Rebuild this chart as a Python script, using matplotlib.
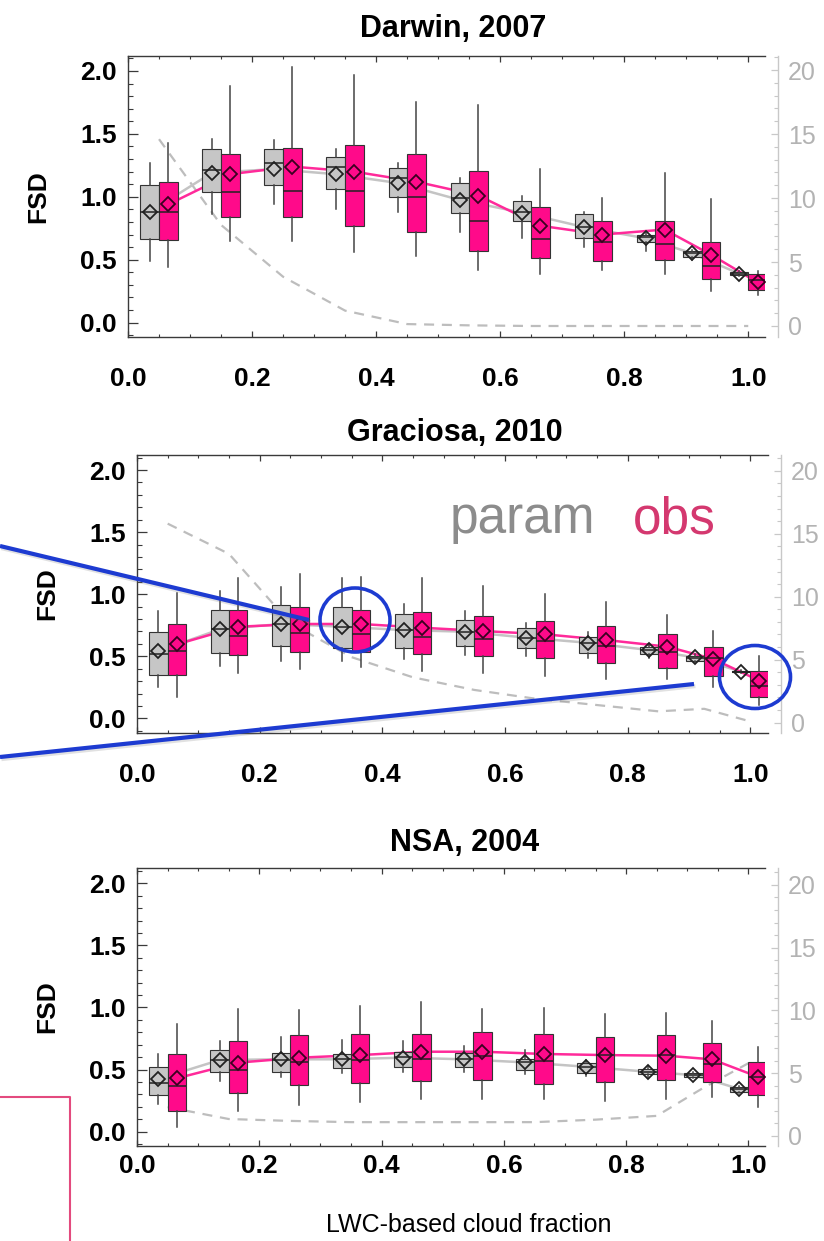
import matplotlib
matplotlib.use('Agg')
import matplotlib.pyplot as plt
from matplotlib.patches import Ellipse
from matplotlib.ticker import MultipleLocator, FormatStrFormatter
import matplotlib.patheffects as pe

plt.rcParams['font.family'] = ['Liberation Sans', 'DejaVu Sans']

# ---------------- data ----------------
bin_centers = [0.05, 0.15, 0.25, 0.35, 0.45, 0.55, 0.65, 0.75, 0.85, 0.925, 1.0]
titles = ["Darwin, 2007", "Graciosa, 2010", "NSA, 2004"]

# Darwin, 2007 - param (gray)
darwin_param_lo = [0.49, 0.86, 0.94, 0.90, 0.88, 0.72, 0.67, 0.60, 0.57, 0.50, 0.37]
darwin_param_q1 = [0.665, 1.04, 1.09, 1.06, 1.00, 0.87, 0.81, 0.67, 0.64, 0.525, 0.38]
darwin_param_med = [0.88, 1.21, 1.27, 1.24, 1.15, 0.99, 0.88, 0.76, 0.68, 0.55, 0.39]
darwin_param_q3 = [1.09, 1.38, 1.38, 1.32, 1.23, 1.11, 0.97, 0.86, 0.70, 0.57, 0.40]
darwin_param_hi = [1.27, 1.46, 1.45, 1.38, 1.27, 1.15, 1.01, 0.88, 0.715, 0.58, 0.41]
darwin_param_mean = [0.88, 1.19, 1.22, 1.18, 1.11, 0.975, 0.875, 0.76, 0.67, 0.55, 0.39]
# Darwin, 2007 - obs (pink)
darwin_obs_lo = [0.445, 0.65, 0.645, 0.56, 0.53, 0.42, 0.39, 0.42, 0.39, 0.25, 0.22]
darwin_obs_q1 = [0.657, 0.84, 0.84, 0.77, 0.72, 0.57, 0.51, 0.49, 0.50, 0.344, 0.26]
darwin_obs_med = [0.877, 1.036, 1.046, 1.046, 1.0, 0.81, 0.665, 0.638, 0.625, 0.453, 0.34]
darwin_obs_q3 = [1.12, 1.34, 1.385, 1.41, 1.34, 1.205, 0.92, 0.81, 0.81, 0.644, 0.385]
darwin_obs_hi = [1.425, 1.88, 2.03, 1.97, 1.75, 1.73, 1.22, 0.99, 1.19, 0.98, 0.41]
darwin_obs_mean = [0.94, 1.18, 1.24, 1.20, 1.12, 1.01, 0.77, 0.70, 0.74, 0.54, 0.32]
darwin_frac = [14.6, 7.9, 3.85, 1.2, 0.15, 0.05, 0.0, 0.0, 0.0, 0.0, 0.0]

# Graciosa, 2010 - param
graciosa_param_lo = [0.255, 0.42, 0.46, 0.46, 0.48, 0.51, 0.50, 0.49, 0.49, 0.456, 0.365]
graciosa_param_q1 = [0.35, 0.53, 0.58, 0.57, 0.57, 0.585, 0.57, 0.53, 0.515, 0.464, 0.37]
graciosa_param_med = [0.515, 0.717, 0.76, 0.738, 0.711, 0.698, 0.65, 0.609, 0.55, 0.483, 0.376]
graciosa_param_q3 = [0.698, 0.872, 0.913, 0.894, 0.838, 0.79, 0.725, 0.658, 0.577, 0.505, 0.385]
graciosa_param_hi = [0.867, 1.028, 1.06, 1.128, 0.921, 0.867, 0.77, 0.698, 0.591, 0.518, 0.39]
graciosa_param_mean = [0.542, 0.717, 0.76, 0.738, 0.711, 0.698, 0.65, 0.609, 0.55, 0.491, 0.376]
# Graciosa, 2010 - obs
graciosa_obs_lo = [0.174, 0.368, 0.395, 0.416, 0.381, 0.368, 0.344, 0.317, 0.314, 0.25, 0.107]
graciosa_obs_q1 = [0.349, 0.51, 0.532, 0.532, 0.515, 0.502, 0.483, 0.443, 0.408, 0.341, 0.174]
graciosa_obs_med = [0.542, 0.663, 0.69, 0.679, 0.658, 0.639, 0.623, 0.585, 0.537, 0.483, 0.26]
graciosa_obs_q3 = [0.76, 0.872, 0.894, 0.872, 0.854, 0.827, 0.787, 0.744, 0.677, 0.577, 0.381]
graciosa_obs_hi = [1.007, 1.128, 1.162, 1.136, 1.128, 1.066, 1.001, 0.934, 0.832, 0.703, 0.502]
graciosa_obs_mean = [0.596, 0.738, 0.76, 0.76, 0.73, 0.703, 0.677, 0.631, 0.577, 0.478, 0.303]
graciosa_frac = [15.8, 13.4, 7.9, 5.2, 3.6, 2.6, 1.9, 1.4, 0.9, 1.1, 0.1]

# NSA, 2004 - param
nsa_param_lo = [0.22, 0.411, 0.438, 0.475, 0.478, 0.483, 0.464, 0.448, 0.443, 0.43, 0.309]
nsa_param_q1 = [0.295, 0.478, 0.478, 0.51, 0.518, 0.518, 0.497, 0.47, 0.462, 0.438, 0.322]
nsa_param_med = [0.389, 0.577, 0.577, 0.583, 0.604, 0.583, 0.558, 0.523, 0.483, 0.456, 0.344]
nsa_param_q3 = [0.518, 0.658, 0.631, 0.626, 0.644, 0.636, 0.585, 0.556, 0.502, 0.47, 0.362]
nsa_param_hi = [0.626, 0.73, 0.76, 0.738, 0.73, 0.693, 0.658, 0.577, 0.529, 0.483, 0.368]
nsa_param_mean = [0.424, 0.577, 0.583, 0.583, 0.596, 0.583, 0.558, 0.523, 0.483, 0.456, 0.344]
# NSA, 2004 - obs
nsa_obs_lo = [0.04, 0.169, 0.215, 0.242, 0.26, 0.26, 0.26, 0.25, 0.26, 0.277, 0.196]
nsa_obs_q1 = [0.169, 0.309, 0.376, 0.395, 0.408, 0.416, 0.384, 0.403, 0.416, 0.397, 0.295]
nsa_obs_med = [0.37, 0.497, 0.558, 0.577, 0.585, 0.609, 0.569, 0.617, 0.617, 0.545, 0.443]
nsa_obs_q3 = [0.626, 0.73, 0.779, 0.787, 0.787, 0.805, 0.787, 0.765, 0.779, 0.711, 0.558]
nsa_obs_hi = [0.867, 0.988, 0.98, 1.012, 1.047, 0.988, 0.999, 0.948, 0.958, 0.891, 0.679]
nsa_obs_mean = [0.43, 0.556, 0.596, 0.617, 0.644, 0.644, 0.626, 0.617, 0.612, 0.583, 0.443]
nsa_frac = [2.3, 1.35, 1.2, 1.1, 1.1, 1.1, 1.1, 1.3, 1.6, 3.8, 5.8]

x_ticks = [0.0, 0.2, 0.4, 0.6, 0.8, 1.0]
y_ticks = [0.0, 0.5, 1.0, 1.5, 2.0]
right_ticks = [0, 5, 10, 15, 20]

# ---------------- styling / layout ----------------
W, H = 824, 1241
GRAY_FILL = '#c6c6c6'
PINK_FILL = '#ff0a8a'
PINK_LINE = '#ff2a9a'
GRAY_LINE = '#c4c4c4'
EDGE = '#333333'

# pixel boxes (left, top, right, bottom)
panel_px = [(128, 56, 765, 337), (137, 455, 768, 733), (137, 868, 765, 1146)]
ylims = [(-0.114, 2.119), (-0.118, 2.121), (-0.115, 2.123)]
xlims = [(0, 1.027), (0, 1.029), (0, 1.027)]
rylims = [(-0.86, 21.1), (-0.82, 21.25), (-0.8, 21.35)]
xpads = [21.5, 21.5, 5.5]
title_pads = [14, 10, 12]
title_x = [0.51, 0.504, 0.521]

fig = plt.figure(figsize=(W / 100, H / 100), dpi=100)

sites = [
    (
        (darwin_param_lo, darwin_param_q1, darwin_param_med, darwin_param_q3, darwin_param_hi, darwin_param_mean),
        (darwin_obs_lo, darwin_obs_q1, darwin_obs_med, darwin_obs_q3, darwin_obs_hi, darwin_obs_mean),
        darwin_frac,
    ),
    (
        (graciosa_param_lo, graciosa_param_q1, graciosa_param_med, graciosa_param_q3, graciosa_param_hi, graciosa_param_mean),
        (graciosa_obs_lo, graciosa_obs_q1, graciosa_obs_med, graciosa_obs_q3, graciosa_obs_hi, graciosa_obs_mean),
        graciosa_frac,
    ),
    (
        (nsa_param_lo, nsa_param_q1, nsa_param_med, nsa_param_q3, nsa_param_hi, nsa_param_mean),
        (nsa_obs_lo, nsa_obs_q1, nsa_obs_med, nsa_obs_q3, nsa_obs_hi, nsa_obs_mean),
        nsa_frac,
    ),
]


def make_stats(series):
    lo, q1, med, q3, hi, mean = series
    return [dict(whislo=a, q1=b, med=c, q3=d, whishi=e, mean=f, fliers=[])
            for a, b, c, d, e, f in zip(lo, q1, med, q3, hi, mean)]


def draw_boxes(ax, series, positions, fill, edge_mean):
    ax.bxp(make_stats(series), positions=positions, widths=0.03,
           patch_artist=True, showmeans=True, showcaps=False, showfliers=False,
           manage_ticks=False,
           boxprops=dict(facecolor=fill, edgecolor=EDGE, linewidth=0.8),
           whiskerprops=dict(color='#444444', linewidth=1.1),
           medianprops=dict(color='#222222', linewidth=1.1),
           meanprops=dict(marker='D', markerfacecolor='none',
                          markeredgecolor=edge_mean, markersize=7,
                          markeredgewidth=1.3))


for i, (param, obs, frac) in enumerate(sites):
    l, t, r, b = panel_px[i]
    ax = fig.add_axes([l / W, 1 - b / H, (r - l) / W, (b - t) / H])
    ax2 = ax.twinx()
    ax.set_zorder(ax2.get_zorder() + 1)
    ax.patch.set_visible(False)

    # cloud-fraction frequency (right axis, dashed)
    ax2.plot(bin_centers, frac, ls=(0, (4.5, 3.5)), color='#bdbdbd', lw=1.6)
    ax2.set_ylim(*rylims[i])
    ax2.set_yticks(right_ticks)
    ax2.yaxis.set_minor_locator(MultipleLocator(1))
    for s in ['top', 'bottom', 'left']:
        ax2.spines[s].set_visible(False)
    ax2.spines['right'].set_position(('outward', 9.5))
    ax2.spines['right'].set_color('#c8c8c8')
    ax2.spines['right'].set_linewidth(1.0)
    ax2.tick_params(axis='y', which='major', direction='in', length=5, width=0.9,
                    color='#c8c8c8', labelcolor='#b3b3b3', labelsize=18, pad=7)
    ax2.tick_params(axis='y', which='minor', direction='in', length=3, width=0.8,
                    color='#c8c8c8')
    ax2.tick_params(axis='x', which='both', bottom=False, top=False,
                    labelbottom=False)

    pos_param = [c - 0.015 for c in bin_centers]
    pos_obs = [c + 0.015 for c in bin_centers]

    # mean lines
    ax.plot(pos_param, param[5], color=GRAY_LINE, lw=1.8, zorder=1.2)
    ax.plot(pos_obs, obs[5], color=PINK_LINE, lw=1.8, zorder=1.3)

    draw_boxes(ax, param, pos_param, GRAY_FILL, '#222222')
    draw_boxes(ax, obs, pos_obs, PINK_FILL, '#3a0020')

    ax.set_xlim(*xlims[i])
    ax.set_ylim(*ylims[i])
    ax.set_xticks(x_ticks)
    ax.set_yticks(y_ticks)
    ax.xaxis.set_minor_locator(MultipleLocator(0.05))
    ax.yaxis.set_minor_locator(MultipleLocator(0.1))
    ax.xaxis.set_major_formatter(FormatStrFormatter('%.1f'))
    ax.yaxis.set_major_formatter(FormatStrFormatter('%.1f'))
    ax.spines['right'].set_visible(False)
    for s in ['top', 'bottom', 'left']:
        ax.spines[s].set_color('#3a3a3a')
        ax.spines[s].set_linewidth(1.0)
    ax.tick_params(axis='x', which='major', direction='in', top=True, bottom=True,
                   length=4.3, width=0.9, color='#3a3a3a', labelsize=19,
                   pad=xpads[i])
    ax.tick_params(axis='x', which='minor', direction='in', top=True, bottom=True,
                   length=2.5, width=0.8, color='#3a3a3a')
    ax.tick_params(axis='y', which='major', direction='in', right=False,
                   length=7, width=0.9, color='#3a3a3a', labelsize=19, pad=8)
    ax.tick_params(axis='y', which='minor', direction='in', right=False,
                   length=3.6, width=0.8, color='#3a3a3a')
    for lab in ax.get_xticklabels() + ax.get_yticklabels():
        lab.set_fontweight('bold')

    ax.set_title(titles[i], fontsize=22, fontweight='bold', x=title_x[i],
                 pad=title_pads[i])
    ax.set_ylabel('FSD', fontsize=19, fontweight='bold')
    ax.yaxis.set_label_coords(-90 / (r - l), 0.5)
    ax.yaxis.label.set_va('center')

    if i == 2:
        ax.set_xlabel('LWC-based cloud fraction', fontsize=18)
        ax.xaxis.set_label_coords((469 - l) / (r - l), -(1225 - b) / (b - t))
        ax.xaxis.label.set_va('center')

# ---------------- annotation overlay ----------------
ov = fig.add_axes([0, 0, 1, 1], zorder=20)
ov.set_xlim(0, W)
ov.set_ylim(H, 0)
ov.axis('off')
ov.patch.set_visible(False)

BLUE = '#1d3bd1'
shadow = [pe.SimpleLineShadow(offset=(1.0, -1.5), shadow_color='#777777', alpha=0.22),
          pe.Normal()]
ov.plot([0, 309], [546, 620], color=BLUE, lw=3.0, solid_capstyle='butt',
        path_effects=shadow)
ov.plot([0, 694], [757, 684], color=BLUE, lw=3.0, solid_capstyle='butt',
        path_effects=shadow)
ov.add_patch(Ellipse((355, 620), 70, 64, fill=False, edgecolor=BLUE, lw=2.6))
ov.add_patch(Ellipse((755, 677), 71, 63, fill=False, edgecolor=BLUE, lw=2.6))

ov.text(450, 533, 'param', color='#8c8c8c', fontsize=37, ha='left', va='baseline')
ov.text(633, 533, 'obs', color='#d4386f', fontsize=37, ha='left', va='baseline')

ov.plot([0, 70, 70], [1097, 1097, 1241], color='#e34a7e', lw=1.5)

fig.savefig('out.png', dpi=100)
